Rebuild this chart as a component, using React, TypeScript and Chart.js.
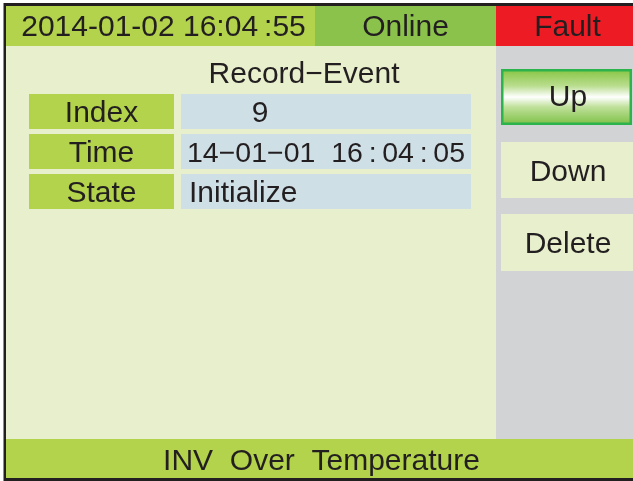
import React, { useEffect, useRef } from 'react';
import { Chart, registerables } from 'chart.js';

Chart.register(...registerables);

// ---- content ----
const headerTexts = ['2014-01-02 16:04\u2009:55', 'Online', 'Fault'];
const pageTitle = 'Record\u2212Event';
const fieldLabels = ['Index', 'Time', 'State'];
const fieldValues = ['9', '14\u221201\u221201  16\u2009:\u200904\u2009:\u200905', 'Initialize'];
const buttonLabels = ['Up', 'Down', 'Delete'];
const footerText = 'INV  Over  Temperature';

// ---- styles ----
const FONT = '"Liberation Sans", Arial, Helvetica, sans-serif';
const TEXT = '#231f20';
const FRAME = '#231f20';
const LIME = '#b2d34b';
const ONLINE = '#8bc24b';
const RED = '#ed1c24';
const CONTENT = '#e8efcd';
const GRAY = '#d1d3d4';
const VALUE_BG = '#cfdfe6';

function drawText(ctx: CanvasRenderingContext2D, text: string, x: number, cy: number, size: number, align: CanvasTextAlign) {
  ctx.font = `${size}px ${FONT}`;
  ctx.textAlign = align;
  ctx.textBaseline = 'alphabetic';
  ctx.fillStyle = TEXT;
  ctx.fillText(text, x, cy + size * 0.358);
}

const uiPlugin = {
  id: 'panelUI',
  beforeDraw(chart: any) {
    const ctx: CanvasRenderingContext2D = chart.ctx;
    const W = chart.width;
    const H = chart.height;
    ctx.save();
    ctx.fillStyle = '#ffffff';
    ctx.fillRect(0, 0, W, H);
    // frame
    ctx.fillStyle = FRAME;
    ctx.fillRect(3.5, 3, W - 3.5, H - 3);

    // header
    const hTop = 6, hBot = 46;
    const hCols = [6, 315, 496, W];
    const hColors = [LIME, ONLINE, RED];
    headerTexts.forEach((t, i) => {
      ctx.fillStyle = hColors[i];
      ctx.fillRect(hCols[i], hTop, hCols[i + 1] - hCols[i], hBot - hTop);
      const cx = (hCols[i] + hCols[i + 1]) / 2 + (i === 0 ? 3 : i === 2 ? 3 : 0);
      drawText(ctx, t, cx, 25.5, 30, 'center');
    });

    // content
    const cBot = 439;
    ctx.fillStyle = CONTENT;
    ctx.fillRect(6, hBot, 490, cBot - hBot);
    ctx.fillStyle = GRAY;
    ctx.fillRect(496, hBot, W - 496, cBot - hBot);

    // title
    drawText(ctx, pageTitle, 304, 72.5, 30, 'center');

    // rows
    const rowTops = [94, 134, 174];
    const rowH = 35;
    fieldLabels.forEach((lab, i) => {
      const y = rowTops[i];
      ctx.fillStyle = LIME;
      ctx.fillRect(29, y, 145, rowH);
      ctx.fillStyle = VALUE_BG;
      ctx.fillRect(181, y, 290, rowH);
      drawText(ctx, lab, 101.5, y + rowH / 2, 30, 'center');
      const v = fieldValues[i];
      if (i === 0) drawText(ctx, v, 260, y + rowH / 2, 30, 'center');
      else if (i === 1) drawText(ctx, v, 187, y + rowH / 2, 28.5, 'left');
      else drawText(ctx, v, 189, y + rowH / 2, 30, 'left');
    });

    // buttons
    const btns = [
      { x: 501, y: 69, w: 131, h: 56 },
      { x: 501, y: 142, w: 132, h: 56 },
      { x: 501, y: 214, w: 132, h: 57 },
    ];
    buttonLabels.forEach((lab, i) => {
      const b = btns[i];
      if (i === 0) {
        const g = ctx.createLinearGradient(0, b.y, 0, b.y + b.h);
        g.addColorStop(0, '#86c440');
        g.addColorStop(0.3, '#b9dd8e');
        g.addColorStop(0.5, '#ffffff');
        g.addColorStop(0.68, '#bfe09a');
        g.addColorStop(1, '#7cc043');
        ctx.fillStyle = g;
        ctx.fillRect(b.x, b.y, b.w, b.h);
        ctx.strokeStyle = '#2db34c';
        ctx.lineWidth = 2.5;
        ctx.strokeRect(b.x + 1.25, b.y + 1.25, b.w - 2.5, b.h - 2.5);
      } else {
        ctx.fillStyle = CONTENT;
        ctx.fillRect(b.x, b.y, b.w, b.h);
      }
      drawText(ctx, lab, 568, b.y + b.h / 2 - (i === 0 ? 2 : 0), 30, 'center');
    });

    // footer
    ctx.fillStyle = LIME;
    ctx.fillRect(6, cBot, W - 6, 478 - cBot);
    drawText(ctx, footerText, 321.5, 459, 30, 'center');

    ctx.restore();
  },
};

export default function App() {
  const ref = useRef<HTMLCanvasElement | null>(null);
  useEffect(() => {
    const canvas = ref.current;
    if (!canvas) return;
    const chart = new Chart(canvas, {
      type: 'bar',
      data: { labels: fieldLabels, datasets: [] },
      options: {
        animation: false,
        responsive: false,
        events: [],
        layout: { padding: 0 },
        plugins: { legend: { display: false }, tooltip: { enabled: false }, title: { display: false } },
        scales: { x: { display: false }, y: { display: false } },
      },
      plugins: [uiPlugin as any],
    });
    return () => chart.destroy();
  }, []);
  return (
    <div style={{ position: 'fixed', left: 0, top: 0, width: 633, height: 481, background: '#fff' }}>
      <canvas ref={ref} width={633} height={481} style={{ display: 'block', width: 633, height: 481 }} />
    </div>
  );
}
